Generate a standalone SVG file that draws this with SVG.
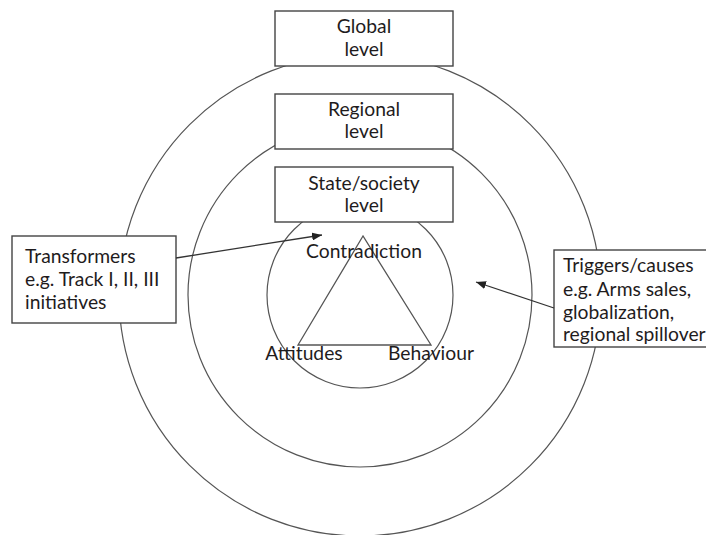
<svg xmlns="http://www.w3.org/2000/svg" width="706" height="535" viewBox="0 0 706 535">
<defs>
<style>
.ring{fill:none;stroke:#555;stroke-width:1.2}
.box{fill:#fff;stroke:#444;stroke-width:1.4}
.tri{fill:none;stroke:#555;stroke-width:1.3}
.lbl{font-family:Lato,"Open Sans","Liberation Sans",sans-serif;font-size:19.3px;fill:#1f1c1d}
.mid{text-anchor:middle}
.conn{fill:none;stroke:#333;stroke-width:1.3}
</style>
<marker id="ah" viewBox="0 0 10 8" refX="10" refY="4" markerWidth="10" markerHeight="8" markerUnits="userSpaceOnUse" orient="auto">
<path d="M0,0 L10,4 L0,8 z" fill="#222"/>
</marker>
</defs>
<rect width="706" height="535" fill="#fff"/>
<g id="rings">
<circle class="ring" cx="360" cy="295" r="241"/>
<circle class="ring" cx="360" cy="295" r="172"/>
<circle class="ring" cx="360" cy="295" r="93"/>
</g>
<g id="triangle">
<polygon class="tri" points="363,236 298,345 431,345"/>
</g>
<g id="global">
<rect class="box" x="275" y="11" width="178" height="55"/>
<text class="lbl mid" x="364" y="33">Global</text>
<text class="lbl mid" x="364" y="56">level</text>
</g>
<g id="regional">
<rect class="box" x="275" y="94" width="178" height="55"/>
<text class="lbl mid" x="364" y="116">Regional</text>
<text class="lbl mid" x="364" y="138">level</text>
</g>
<g id="state">
<rect class="box" x="275" y="167" width="178" height="55"/>
<text class="lbl mid" x="364" y="190">State/society</text>
<text class="lbl mid" x="364" y="212">level</text>
</g>
<g id="contradiction">
<text class="lbl mid" x="364" y="258">Contradiction</text>
</g>
<g id="attitudes">
<text class="lbl mid" x="304" y="360">Attitudes</text>
</g>
<g id="behaviour">
<text class="lbl mid" x="431" y="360">Behaviour</text>
</g>
<g id="transformers">
<rect class="box" x="12" y="236" width="164" height="87"/>
<text class="lbl" x="25" y="263">Transformers</text>
<text class="lbl" x="25" y="286">e.g. Track I, II, III</text>
<text class="lbl" x="25" y="309">initiatives</text>
</g>
<g id="triggers">
<rect class="box" x="554" y="250" width="170" height="97"/>
<text class="lbl" x="563" y="272">Triggers/causes</text>
<text class="lbl" x="563" y="296">e.g. Arms sales,</text>
<text class="lbl" x="563" y="319">globalization,</text>
<text class="lbl" x="563" y="341">regional spillover</text>
</g>
<g id="connectors">
<line class="conn" x1="176" y1="258" x2="322" y2="235" marker-end="url(#ah)"/>
<line class="conn" x1="554" y1="308" x2="476" y2="282" marker-end="url(#ah)"/>
</g>
</svg>
